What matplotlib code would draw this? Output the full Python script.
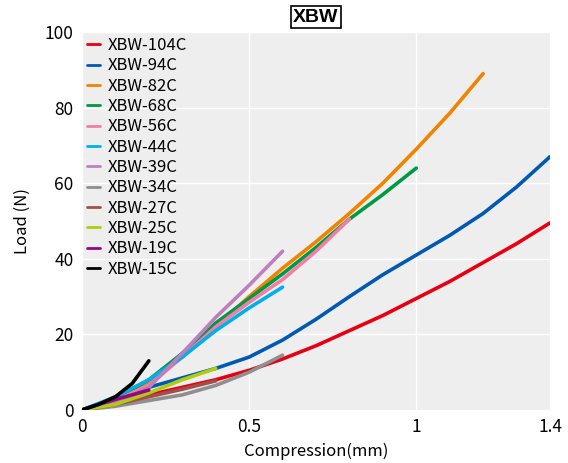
import matplotlib.pyplot as plt
import numpy as np

plt.rcParams['font.family'] = ['Noto Sans CJK JP', 'DejaVu Sans']

# Load-compression curves
names = ['XBW-104C', 'XBW-94C', 'XBW-82C', 'XBW-68C', 'XBW-56C', 'XBW-44C',
         'XBW-39C', 'XBW-34C', 'XBW-27C', 'XBW-25C', 'XBW-19C', 'XBW-15C']
colors = ['#e60012', '#0059b3', '#f08300', '#009944', '#f27ea6', '#00afec',
          '#bf7fbf', '#8f8f8f', '#a0504a', '#b0cc10', '#920783', '#000000']

x_104 = [0, 0.1, 0.2, 0.3, 0.4, 0.5, 0.6, 0.7, 0.8, 0.9, 1.0, 1.1, 1.2, 1.3, 1.4]
y_104 = [0, 2, 4, 6, 8, 10.5, 13.5, 17, 21, 25, 29.5, 34, 39, 44, 49.5]
x_94 = [0, 0.1, 0.2, 0.3, 0.4, 0.5, 0.6, 0.7, 0.8, 0.9, 1.0, 1.1, 1.2, 1.3, 1.4]
y_94 = [0, 3, 6, 8.5, 11, 14, 18.5, 24, 30, 35.8, 41, 46.2, 52, 59, 67]
x_82 = [0, 0.1, 0.2, 0.3, 0.4, 0.5, 0.6, 0.7, 0.8, 0.9, 1.0, 1.1, 1.2]
y_82 = [0, 3, 7.5, 14, 22, 30, 37.5, 44.5, 52, 60, 69, 78.5, 89]
x_68 = [0, 0.1, 0.2, 0.3, 0.4, 0.5, 0.6, 0.7, 0.8, 0.9, 1.0]
y_68 = [0, 3, 8, 15, 23, 29.5, 36, 43, 50.5, 57, 64]
x_56 = [0, 0.1, 0.2, 0.3, 0.4, 0.5, 0.6, 0.7, 0.8]
y_56 = [0, 2.5, 6.5, 14, 22, 28.5, 34.5, 42, 50.5]
x_44 = [0, 0.1, 0.2, 0.3, 0.4, 0.5, 0.6]
y_44 = [0, 3.5, 8, 14, 21, 27, 32.5]
x_39 = [0, 0.1, 0.2, 0.3, 0.4, 0.5, 0.6]
y_39 = [0, 2, 6, 15, 24.5, 33, 42]
x_34 = [0, 0.1, 0.2, 0.3, 0.4, 0.5, 0.6]
y_34 = [0, 1, 2.5, 4, 6.5, 10, 14.5]
x_27 = [0, 0.1, 0.2, 0.3, 0.4]
y_27 = [0, 1.5, 3.5, 5.5, 7.7]
x_25 = [0, 0.1, 0.2, 0.3, 0.4]
y_25 = [0, 1.5, 4.5, 8, 11]
x_19 = [0, 0.05, 0.1, 0.15, 0.2]
y_19 = [0, 1.5, 2.8, 4, 5.3]
x_15 = [0, 0.05, 0.1, 0.15, 0.2]
y_15 = [0, 1.5, 3.5, 7, 13]

xs = [x_104, x_94, x_82, x_68, x_56, x_44, x_39, x_34, x_27, x_25, x_19, x_15]
ys = [y_104, y_94, y_82, y_68, y_56, y_44, y_39, y_34, y_27, y_25, y_19, y_15]

fig = plt.figure(figsize=(5.68, 4.63), dpi=100)
ax = fig.add_axes([82 / 568, 53 / 463, 468 / 568, 378 / 463])
ax.set_facecolor('#eeeeee')

for name, c, x, y in zip(names, colors, xs, ys):
    ax.plot(x, y, color=c, lw=2.6, label=name, solid_capstyle='round',
            solid_joinstyle='round')

ax.set_xlim(0, 1.4)
ax.set_ylim(0, 100)
ax.set_xticks([0, 0.5, 1, 1.4])
ax.set_xticklabels(['0', '0.5', '1', '1.4'])
ax.set_yticks([0, 20, 40, 60, 80, 100])
ax.grid(True, color='white', lw=1)
ax.set_axisbelow(True)
for s in ax.spines.values():
    s.set_visible(False)
ax.tick_params(length=0, labelsize=12.5, pad=6)

ax.set_xlabel('Compression(mm)', fontsize=12, labelpad=5)
ax.set_ylabel('Load (N)', fontsize=12, labelpad=10)

leg = ax.legend(loc='upper left', frameon=False, fontsize=12, handlelength=0.8,
                handletextpad=0.45, labelspacing=0.2, borderaxespad=0.1,
                borderpad=0.2)
for line in leg.get_lines():
    line.set_linewidth(2)

fig.text(316 / 568, 1 - 17 / 463, 'XBW', ha='center', va='center', fontsize=14,
         fontweight='bold', family=['Liberation Sans', 'DejaVu Sans'],
         bbox=dict(facecolor='white', edgecolor='black', lw=1.2, pad=2))

fig.savefig('out.png', dpi=100)
